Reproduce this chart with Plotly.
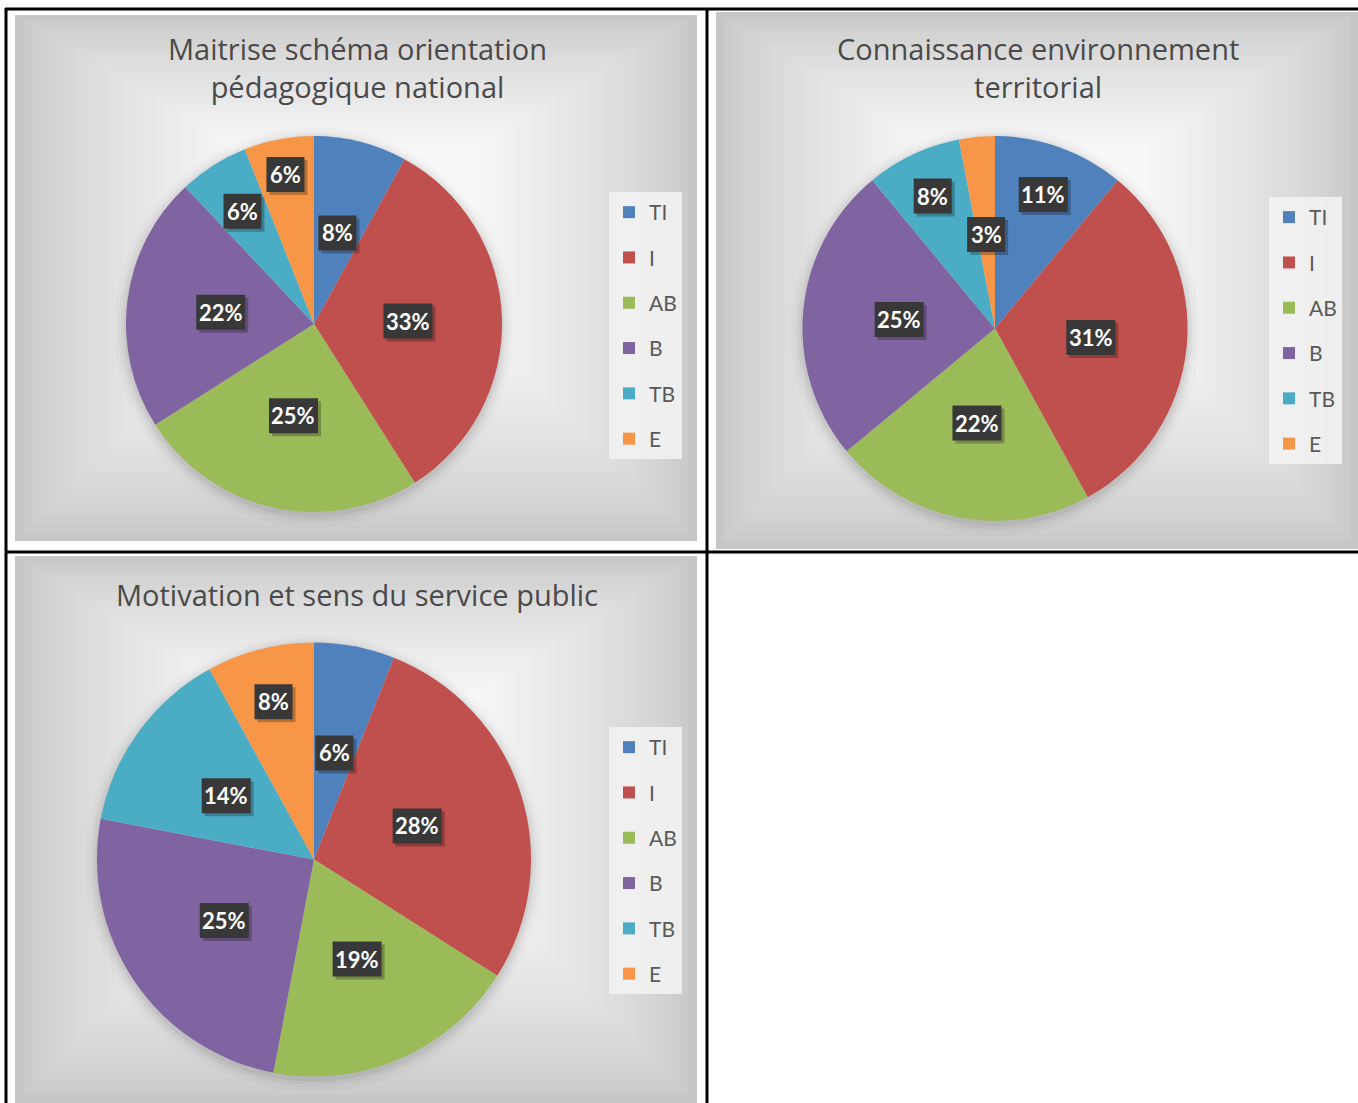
import math
import plotly.graph_objects as go

# ---------------- data ----------------
categories = ["TI", "I", "AB", "B", "TB", "E"]
titles = [
    "Maitrise schéma orientation<br>pédagogique national",
    "Connaissance environnement<br>territorial",
    "Motivation et sens du service public",
]
values_maitrise = [8, 33, 25, 22, 6, 6]
values_connaissance = [11, 31, 22, 25, 8, 3]
values_motivation = [6, 28, 19, 25, 14, 8]

# ---------------- style / layout ----------------
W, H = 1358, 1103
colors = ["#4F81BD", "#C0504D", "#9BBB59", "#8064A2", "#4BACC6", "#F79646"]
TEXT_GREY = "#595959"

# panel boxes (px): x0, y0, x1, y1
panels = [(15, 15, 697, 541), (716, 12, 1358, 549), (15, 556, 697, 1103)]
# pie centre and radius (px)
pies = [(314, 324, 188), (995, 328.5, 192.5), (314, 859.5, 217)]
title_pos = [(357, 68), (1038, 68), (357, 594)]
legend_pos = [(609, 192), (1269, 197), (609, 727)]
# fraction of radius for data label placement per slice (Excel best-fit look)
label_radius = [
    [0.5, 0.5, 0.5, 0.5, 0.71, 0.81],
    [0.74, 0.5, 0.5, 0.5, 0.76, 0.49],
    [0.5, 0.5, 0.5, 0.5, 0.5, 0.75],
]
all_values = [values_maitrise, values_connaissance, values_motivation]


def px(x):
    return x / W


def py(y):
    return 1 - y / H


def mix(c1, c2, t):
    a = [int(c1[i:i + 2], 16) for i in (1, 3, 5)]
    b = [int(c2[i:i + 2], 16) for i in (1, 3, 5)]
    return "#" + "".join(f"{round(a[k] + (b[k] - a[k]) * t):02x}" for k in range(3))


shapes = []
# gradient backgrounds
EDGE, CENTER = "#c6c6c6", "#f8f8f8"
N = 40
for (x0, y0, x1, y1) in panels:
    cx, cy = (x0 + x1) / 2, y0 + 0.38 * (y1 - y0)
    for i in range(N):
        t = i / (N - 1)
        s = 1 - 0.95 * t
        rx0 = cx - (cx - x0) * s
        rx1 = cx + (x1 - cx) * s
        ry0 = cy - (cy - y0) * s
        ry1 = cy + (y1 - cy) * s
        shapes.append(dict(type="rect", xref="paper", yref="paper",
                           x0=px(rx0), x1=px(rx1), y0=py(ry1), y1=py(ry0),
                           fillcolor=mix(EDGE, CENTER, min(1, 1.4 * t) ** 0.7),
                           line=dict(width=0), layer="below"))
# soft shadow behind pies
for (cx, cy, r) in pies:
    for dr, op in [(12, 0.015), (8, 0.025), (5, 0.035), (2, 0.05)]:
        rr = r + dr
        shapes.append(dict(type="circle", xref="paper", yref="paper",
                           x0=px(cx - rr), x1=px(cx + rr),
                           y0=py(cy + rr + 3), y1=py(cy - rr + 3),
                           fillcolor=f"rgba(0,0,0,{op})", line=dict(width=0),
                           layer="below"))
# table grid lines
grid = [
    (6, 8, 6, 1103), (707, 8, 707, 1103),
    (5, 9, 1358, 9), (5, 552, 1358, 552),
]
for (x0, y0, x1, y1) in grid:
    shapes.append(dict(type="line", xref="paper", yref="paper",
                       x0=px(x0), x1=px(x1), y0=py(y0), y1=py(y1),
                       line=dict(color="black", width=3)))

fig = go.Figure()
annotations = []
legend_names = ["legend", "legend2", "legend3"]

for ci, vals in enumerate(all_values):
    cx, cy, r = pies[ci]
    fig.add_trace(go.Pie(
        labels=categories, values=vals, sort=False, direction="clockwise",
        rotation=0, marker=dict(colors=colors, line=dict(width=0)),
        textinfo="none", hoverinfo="label+percent", showlegend=False,
        domain=dict(x=[px(cx - r), px(cx + r)], y=[py(cy + r), py(cy - r)]),
    ))
    # legend entries
    for k, cat in enumerate(categories):
        fig.add_trace(go.Scatter(
            x=[None], y=[None], mode="markers", name=cat,
            marker=dict(symbol="square", size=12, color=colors[k]),
            legend=legend_names[ci], legendgroup=f"{ci}-{cat}",
            showlegend=True, hoverinfo="skip",
        ))
    # data labels
    total = sum(vals)
    cum = 0
    for k, v in enumerate(vals):
        theta = 2 * math.pi * (cum + v / 2) / total
        cum += v
        f = label_radius[ci][k]
        lx = cx + f * r * math.sin(theta)
        ly = cy - f * r * math.cos(theta)
        pct = round(100 * v / total)
        txt = f"<b>{pct}%</b>"
        bw = 11 * len(f"{pct}%") + 16
        bh = 35
        # box shadow
        shapes.append(dict(type="rect", xref="paper", yref="paper",
                           x0=px(lx - bw / 2 + 3), x1=px(lx + bw / 2 + 3),
                           y0=py(ly + bh / 2 + 3), y1=py(ly - bh / 2 + 3),
                           fillcolor="rgba(0,0,0,0.25)", line=dict(width=0),
                           layer="above"))
        shapes.append(dict(type="rect", xref="paper", yref="paper",
                           x0=px(lx - bw / 2), x1=px(lx + bw / 2),
                           y0=py(ly + bh / 2), y1=py(ly - bh / 2),
                           fillcolor="#383838", line=dict(width=0),
                           layer="above"))
        annotations.append(dict(
            x=px(lx), y=py(ly), xref="paper", yref="paper", text=txt,
            xanchor="center", yanchor="middle",
            showarrow=False, font=dict(family="Lato", size=22, color="white")))
    # title
    tx, ty = title_pos[ci]
    annotations.append(dict(
        x=px(tx), y=py(ty), xref="paper", yref="paper", text=titles[ci],
        showarrow=False, font=dict(family="Open Sans", size=29, color="#4a4a4a"),
        xanchor="center", yanchor="middle"))

legend_style = dict(
    bgcolor="rgba(243,243,243,0.85)", borderwidth=0,
    font=dict(family="Lato", size=21, color=TEXT_GREY),
    traceorder="grouped", tracegroupgap=15, xanchor="left", yanchor="top",
    itemclick=False,
)
layout_legends = {}
for ci, name in enumerate(legend_names):
    lx, ly = legend_pos[ci]
    layout_legends[name] = dict(legend_style, x=px(lx), y=py(ly))

fig.update_layout(
    width=W, height=H, margin=dict(l=0, r=0, t=0, b=0),
    paper_bgcolor="white", plot_bgcolor="rgba(0,0,0,0)",
    xaxis=dict(visible=False), yaxis=dict(visible=False),
    shapes=shapes, annotations=annotations, showlegend=True,
    **layout_legends,
)

fig.write_html(
    "out.html",
    config={"displayModeBar": False},
    post_script="document.body.style.margin='0';document.body.style.overflow='hidden';",
)
